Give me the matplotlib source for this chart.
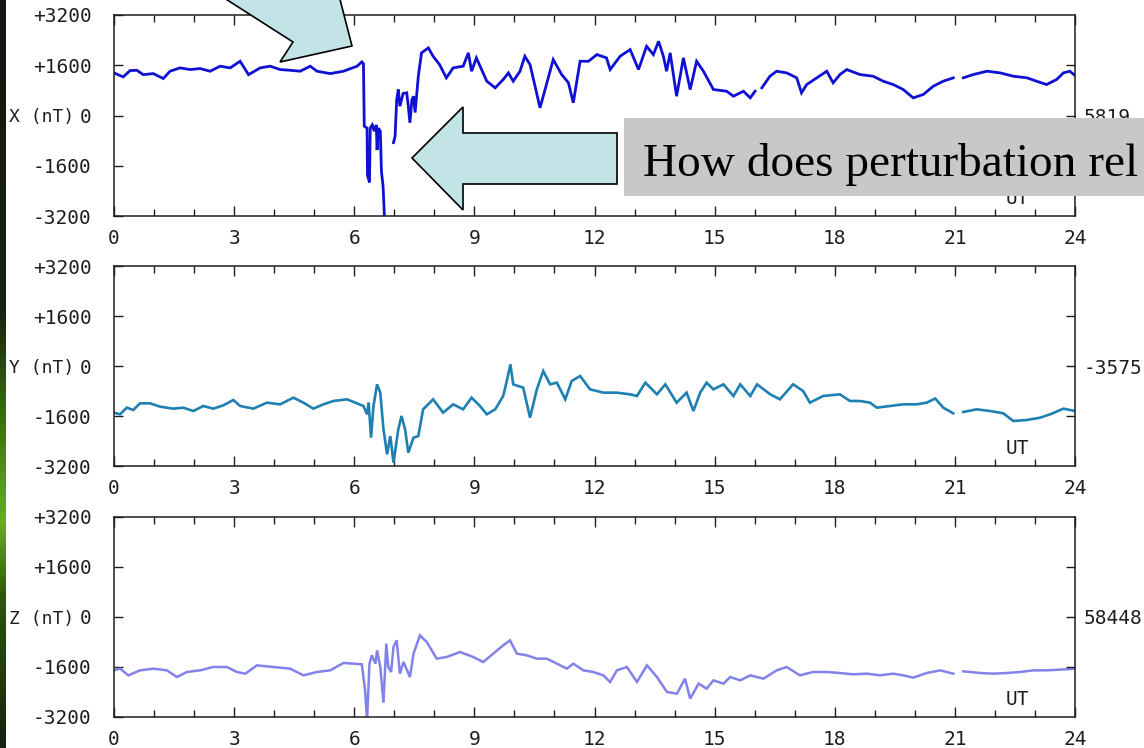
import numpy as np
import matplotlib
matplotlib.use("Agg")
import matplotlib.pyplot as plt
from matplotlib.patches import Polygon, Rectangle
from matplotlib.colors import LinearSegmentedColormap

nan = float("nan")

# ---------------- data (hours UT, nT) ----------------
x_hours = [0, 0.1, 0.23, 0.4, 0.57, 0.73, 0.98, 1.23, 1.4, 1.65, 1.9, 2.15, 2.4, 2.65, 2.9,
           3.15, 3.36, 3.65, 3.9, 4.15, 4.4, 4.65, 4.9, 5.07, 5.4, 5.73, 6.07, 6.19, 6.23,
           6.25, 6.32, 6.33, 6.38, 6.4, 6.45, 6.5, 6.55, 6.57, 6.6, 6.65, 6.68, 6.72, 6.76,
           6.8, 6.97, 6.98, 7.02, 7.06, 7.1, 7.14, 7.22, 7.31, 7.35, 7.39, 7.44, 7.48, 7.52,
           7.6, 7.68, 7.85, 7.97, 8.13, 8.3, 8.47, 8.72, 8.85, 8.93, 9.05, 9.31, 9.52, 9.72,
           9.85, 9.97, 10.14, 10.26, 10.39, 10.64, 10.81, 10.97, 11.18, 11.35, 11.47, 11.64,
           11.85, 12.06, 12.3, 12.39, 12.64, 12.89, 13.1, 13.3, 13.47, 13.6, 13.72, 13.8,
           13.89, 14.05, 14.22, 14.39, 14.55, 14.72, 14.97, 15.3, 15.47, 15.72, 15.89, 16.01,
           16.1, 16.18, 16.38, 16.55, 16.8, 17.05, 17.17, 17.3, 17.55, 17.8, 17.96, 18.13,
           18.3, 18.63, 18.96, 19.21, 19.46, 19.71, 19.96, 20.21, 20.46, 20.71, 20.96, 21.08,
           21.21, 21.46, 21.8, 22.13, 22.46, 22.8, 23.04, 23.29, 23.54, 23.71, 23.87, 24.0]
x_values = [1357, 1300, 1230, 1430, 1440, 1300, 1335, 1177, 1410, 1516, 1463, 1495, 1410, 1570,
            1516, 1727, 1300, 1516, 1570, 1463, 1440, 1410, 1570, 1410, 1335, 1410, 1570, 1707,
            1650, -340, -400, -1900, -2130, -400, -300, -500, -300, -1100, -400, -500, -1800,
            -2250, -3400, -3400, nan, -865, -657, 509, 827, 296, 700, 722, 300, -232, 500, 614,
            95, 1250, 1994, 2153, 1886, 1622, 1199, 1516, 1570, 1994, 1410, 1835, 1092, 880,
            1145, 1357, 1092, 1410, 1886, 1622, 244, 1040, 1781, 1304, 1040, 404, 1727, 1727,
            1940, 1835, 1463, 1886, 2099, 1463, 2204, 1940, 2363, 1886, 1410, 1994, 614, 1835,
            827, 1727, 1410, 827, 773, 614, 773, 562, 773, nan, 880, 1250, 1410, 1357, 1199,
            722, 986, 1199, 1410, 1040, 1304, 1463, 1304, 1250, 1092, 986, 827, 562, 668, 932,
            1092, 1199, nan, 1199, 1304, 1410, 1357, 1250, 1199, 1092, 986, 1145, 1357, 1410,
            1272]

y_hours = [0, 0.15, 0.32, 0.48, 0.65, 0.9, 1.15, 1.48, 1.73, 1.98, 2.23, 2.48, 2.73, 2.98,
           3.15, 3.48, 3.82, 4.15, 4.48, 4.73, 4.98, 5.23, 5.48, 5.82, 6.07, 6.23, 6.32, 6.36,
           6.42, 6.48, 6.57, 6.65, 6.73, 6.82, 6.9, 6.98, 7.1, 7.18, 7.27, 7.35, 7.48, 7.6,
           7.72, 7.97, 8.22, 8.47, 8.72, 8.93, 9.14, 9.31, 9.52, 9.72, 9.8, 9.9, 9.97, 10.22,
           10.39, 10.56, 10.72, 10.89, 11.06, 11.27, 11.43, 11.64, 11.89, 12.22, 12.56, 12.89,
           13.06, 13.27, 13.56, 13.77, 14.05, 14.3, 14.47, 14.64, 14.8, 14.97, 15.22, 15.47,
           15.64, 15.89, 16.06, 16.39, 16.63, 16.96, 17.21, 17.38, 17.71, 18.13, 18.38, 18.63,
           18.88, 19.05, 19.38, 19.71, 20.05, 20.3, 20.51, 20.71, 20.96, 21.08, 21.21, 21.54,
           21.88, 22.21, 22.46, 22.8, 23.13, 23.38, 23.71, 24.0]
y_values = [-1493, -1546, -1333, -1408, -1195, -1195, -1301, -1365, -1333, -1440, -1280, -1365,
            -1259, -1088, -1280, -1365, -1173, -1227, -1013, -1173, -1365, -1227, -1120, -1067,
            -1195, -1280, -1546, -1173, -2293, -1280, -587, -853, -2027, -2827, -2240, -3093,
            -2027, -1600, -2027, -2773, -2293, -2240, -1387, -1067, -1493, -1227, -1387, -1013,
            -1280, -1546, -1387, -960, -533, 53, -587, -693, -1653, -747, -160, -587, -533,
            -1067, -480, -320, -747, -853, -853, -907, -960, -533, -907, -587, -1173, -853,
            -1440, -853, -533, -747, -587, -960, -587, -960, -587, -907, -1067, -587, -800,
            -1173, -960, -907, -1120, -1120, -1173, -1333, -1280, -1227, -1227, -1173, -1040,
            -1333, -1515, nan, -1472, -1387, -1440, -1515, -1760, -1728, -1653, -1546, -1365,
            -1440]

z_hours = [0, 0.15, 0.36, 0.65, 0.98, 1.32, 1.57, 1.82, 2.15, 2.48, 2.82, 3.07, 3.28, 3.57,
           3.98, 4.4, 4.73, 5.07, 5.4, 5.73, 5.98, 6.19, 6.27, 6.32, 6.38, 6.44, 6.53, 6.57,
           6.65, 6.73, 6.8, 6.85, 6.92, 6.98, 7.06, 7.14, 7.23, 7.39, 7.48, 7.64, 7.81, 8.06,
           8.31, 8.64, 8.97, 9.22, 9.47, 9.72, 9.89, 10.06, 10.31, 10.56, 10.81, 11.06, 11.31,
           11.47, 11.72, 11.97, 12.22, 12.39, 12.56, 12.81, 13.06, 13.31, 13.56, 13.81, 14.06,
           14.26, 14.39, 14.6, 14.8, 14.97, 15.22, 15.39, 15.64, 15.89, 16.22, 16.55, 16.8,
           17.13, 17.46, 17.8, 18.13, 18.46, 18.8, 19.13, 19.46, 19.71, 19.96, 20.3, 20.63,
           20.96, 21.08, 21.21, 21.63, 21.96, 22.3, 22.63, 22.96, 23.29, 23.63, 24.0]
z_values = [-1707, -1653, -1867, -1707, -1653, -1707, -1920, -1760, -1707, -1600, -1600, -1760,
            -1813, -1547, -1600, -1653, -1867, -1760, -1707, -1472, -1493, -1515, -2347, -3300,
            -1493, -1227, -1493, -1067, -1600, -2740, -853, -1600, -1760, -960, -747, -1813,
            -1440, -1920, -1173, -587, -800, -1333, -1280, -1120, -1280, -1440, -1173, -907,
            -747, -1173, -1227, -1333, -1333, -1493, -1653, -1493, -1707, -1760, -1867, -2080,
            -1707, -1600, -2080, -1547, -1920, -2400, -2453, -1973, -2613, -2133, -2293, -2027,
            -2133, -1920, -2027, -1867, -1973, -1707, -1600, -1867, -1760, -1760, -1792, -1834,
            -1813, -1867, -1813, -1867, -1940, -1792, -1707, -1813, nan, -1739, -1792, -1813,
            -1792, -1760, -1707, -1707, -1685, -1653]

panel_names = ["X", "Y", "Z"]
baselines = ["5819", "-3575", "58448"]
series = [(x_hours, x_values), (y_hours, y_values), (z_hours, z_values)]
colors = ["#1010d4", "#1e80b2", "#8282ea"]
widths = [2.0, 1.9, 1.8]
ytick_vals = [-3200, -1600, 0, 1600, 3200]
ytick_text = ["-3200", "-1600", "0", "+1600", "+3200"]
xtick_major = list(range(0, 25, 3))
xtick_minor = list(range(0, 25))

# ---------------- figure ----------------
W, H = 1144, 748
fig = plt.figure(figsize=(W / 100, H / 100), dpi=100, facecolor="white")


def fx(px):
    return px / W


def fy(py):
    return 1 - py / H


mono = "DejaVu Sans Mono"
fs = 14
tick_col = "#1e1e1e"

# left dark/green strip
strip = fig.add_axes([0, 0, 6 / W, 1])
cmap = LinearSegmentedColormap.from_list(
    "strip", [(0.0, "#121812"), (0.42, "#18240f"), (0.58, "#3f7a12"),
              (0.7, "#6aae1e"), (0.8, "#2e560f"), (1.0, "#16220e")])
strip.imshow(np.linspace(0, 1, 200).reshape(-1, 1), aspect="auto", cmap=cmap,
             extent=[0, 1, 1, 0])
strip.set_axis_off()

panel_px = [(15, 216), (266, 466), (517, 717)]
ax_left, ax_right = 114, 1075
for i, ((top, bot), name, base, (t, v), col, lw) in enumerate(
        zip(panel_px, panel_names, baselines, series, colors, widths)):
    ax = fig.add_axes([fx(ax_left), fy(bot), fx(ax_right - ax_left), (bot - top) / H])
    ax.plot(t, v, color=col, lw=lw, solid_joinstyle="miter")
    ax.set_xlim(0, 24)
    ax.set_ylim(-3200, 3200)
    ax.set_xticks(xtick_major)
    ax.set_xticks(xtick_minor, minor=True)
    ax.set_yticks(ytick_vals)
    ax.set_yticklabels(ytick_text, fontfamily=mono, fontsize=fs, color=tick_col)
    ax.set_xticklabels([str(h) for h in xtick_major], fontfamily=mono, fontsize=fs,
                       color=tick_col)
    ax.tick_params(axis="x", which="major", direction="in", length=7.5, width=1.0,
                   top=True, bottom=True, pad=9.5, color=tick_col)
    ax.tick_params(axis="x", which="minor", direction="in", length=5, width=1.0,
                   top=True, bottom=True, color=tick_col)
    ax.tick_params(axis="y", which="major", direction="in", length=6.5, width=1.0,
                   left=True, right=False, pad=16, color=tick_col)
    for s in ax.spines.values():
        s.set_linewidth(1.1)
        s.set_color(tick_col)
    ax.text(-(114 - 74) / (ax_right - ax_left), 0, name + " (nT)",
            transform=ax.get_yaxis_transform(), ha="right", va="center_baseline",
            fontfamily=mono, fontsize=fs - 1, color=tick_col)
    ax.text(22.55, -2650, "UT", ha="center", va="center", fontfamily=mono, fontsize=fs,
            color=tick_col)
    tw = ax.twinx()
    tw.set_ylim(-3200, 3200)
    tw.set_yticks([-1600, 0, 1600])
    tw.set_yticklabels(["", base, ""], fontfamily=mono, fontsize=fs, color=tick_col)
    tw.tick_params(axis="y", direction="in", length=6.5, width=1.0, pad=6, color=tick_col)
    for s in tw.spines.values():
        s.set_visible(False)

# ---------------- annotations ----------------
def pts(lst):
    return [(fx(a), fy(b)) for a, b in lst]


arrow_fill = "#c2e4e6"
arrow1 = Polygon(pts([(196, -20), (293, 42), (280, 62), (352, 46), (335, -20)]),
                 closed=True, transform=fig.transFigure, facecolor=arrow_fill,
                 edgecolor="black", lw=1.2, zorder=10)
fig.add_artist(arrow1)

arrow2 = Polygon(pts([(412, 158), (463, 107), (463, 133), (617, 133), (617, 184),
                      (463, 184), (463, 210)]),
                 closed=True, transform=fig.transFigure, facecolor=arrow_fill,
                 edgecolor="black", lw=1.2, zorder=10)
fig.add_artist(arrow2)

box = Rectangle((fx(624), fy(196)), fx(1144 - 624) + 0.01, (196 - 118) / H,
                transform=fig.transFigure, facecolor="#c8c8c8", edgecolor="none", zorder=10)
fig.add_artist(box)
fig.text(fx(643), fy(176), "How does perturbation rel", fontfamily="Liberation Serif",
         fontsize=34, color="black", ha="left", va="baseline", zorder=11)

fig.savefig("out.png", dpi=100, facecolor="white")
